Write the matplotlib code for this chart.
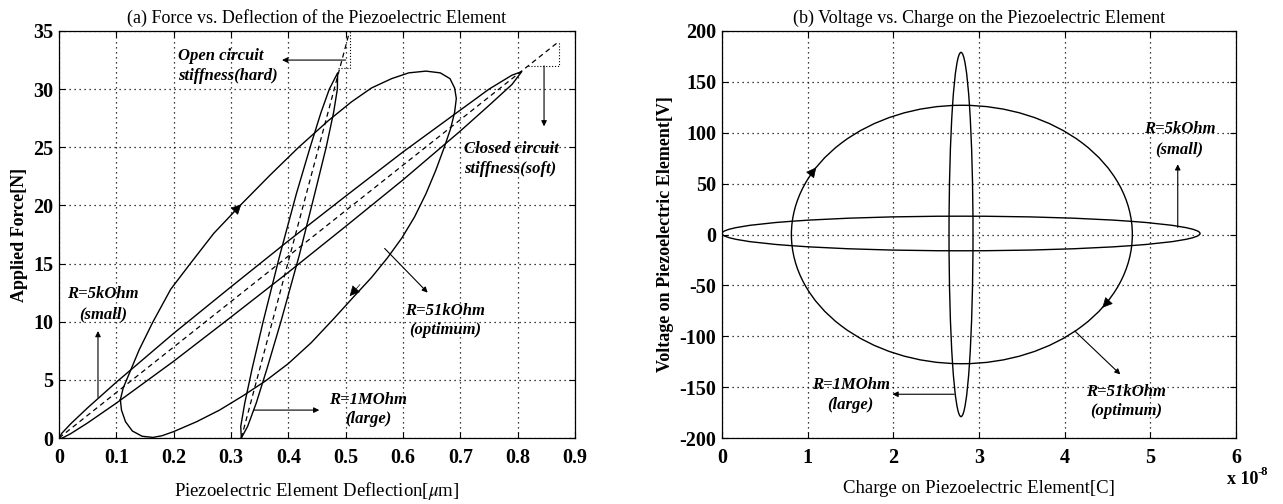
import matplotlib
matplotlib.use('Agg')
import matplotlib.pyplot as plt
from matplotlib.patches import Ellipse

plt.rcParams['font.family'] = ['Liberation Serif', 'DejaVu Serif']
plt.rcParams['mathtext.fontset'] = 'stix'
plt.rcParams['axes.unicode_minus'] = False

# ---- (a) force vs deflection, deflection in um, force in N ----
# R=5kOhm loop (thin, soft)
x_5k = [0, 0.005, 0.02, 0.05, 0.1, 0.15, 0.2, 0.3, 0.4, 0.5, 0.6, 0.7, 0.75, 0.79, 0.807,
        0.79, 0.75, 0.7, 0.6, 0.5, 0.4, 0.3, 0.2, 0.15, 0.1, 0.05, 0.02, 0.005, 0]
f_5k = [0, 0.41, 1.2, 2.6, 4.8, 6.9, 9.0, 13.0, 16.95, 20.8, 24.6, 28.2, 30.0, 31.2, 31.5,
        30.4, 28.6, 26.4, 22.2, 18.2, 14.25, 10.4, 6.6, 4.8, 3.0, 1.3, 0.36, -0.02, 0]

# R=1MOhm loop (thin, hard)
x_1m = [0.318, 0.317, 0.324, 0.337, 0.356, 0.385, 0.414, 0.438, 0.457, 0.4715, 0.486,
        0.4855, 0.479, 0.466, 0.446, 0.419, 0.387, 0.363, 0.344, 0.329, 0.318]
f_1m = [0, 1, 3, 6, 10, 15.7, 21, 25, 28, 30, 31.4,
        30, 28, 25, 21, 15.7, 10, 6, 3, 1, 0]

# R=51kOhm loop (optimum, fat)
x_51k = [0.107, 0.112, 0.123, 0.140, 0.164, 0.195, 0.229, 0.27, 0.318, 0.368, 0.418, 0.47,
         0.51, 0.545, 0.58, 0.61, 0.64, 0.665, 0.682, 0.690, 0.693, 0.690, 0.683, 0.672,
         0.657, 0.640, 0.620, 0.598, 0.573, 0.545, 0.515, 0.480, 0.44, 0.40, 0.36, 0.32,
         0.28, 0.24, 0.20, 0.18, 0.164, 0.145, 0.128, 0.116, 0.109, 0.107]
f_51k = [3.3, 4.3, 5.6, 7.6, 10.0, 12.8, 15.0, 17.6, 20.1, 22.6, 25.0, 27.3,
         28.9, 30.1, 30.9, 31.4, 31.55, 31.4, 30.9, 30.1, 29.2, 28.0, 26.6, 25.0,
         23.0, 21.0, 19.0, 17.2, 15.5, 13.8, 12.2, 10.3, 8.2, 6.4, 4.9, 3.6,
         2.4, 1.4, 0.55, 0.2, 0.05, 0.15, 0.6, 1.4, 2.4, 3.3]

# stiffness lines (dashed) and their triangles
closed_x = [0, 0.872]
closed_f = [0, 34.1]
open_x = [0.318, 0.507]
open_f = [0, 35.0]

# ---- (b) voltage vs charge, charge in 1e-8 C, voltage in V ----
loop_q_mid = [2.80, 2.79, 2.79]     # 51k, 5k, 1M
loop_v_mid = [0.0, 1.0, 0.0]
loop_q_span = [3.98, 5.58, 0.28]
loop_v_span = [254, 34, 358]

fig = plt.figure(figsize=(12.83, 5.04), dpi=100)
W, H = 1283.0, 504.0
ax1 = fig.add_axes([59 / W, 1 - 438 / H, 516 / W, 407 / H])
ax2 = fig.add_axes([722 / W, 1 - 438 / H, 514 / W, 407 / H])

tick_font = dict(fontsize=14.5, fontweight='bold')
note_font = dict(fontsize=12, fontstyle='italic', fontweight='bold', linespacing=1.3)


def style_axes(ax):
    ax.grid(True, color='k', linestyle=(0, (1, 3)), linewidth=0.9)
    ax.tick_params(direction='in', top=True, right=True, length=4, width=0.8)
    ax.tick_params(axis='x', pad=7)
    ax.tick_params(axis='y', pad=4)
    for s in ax.spines.values():
        s.set_linewidth(0.9)


def arrow(ax, tail, head, scale=8, lw=0.8):
    ax.annotate('', xy=head, xytext=tail,
                arrowprops=dict(arrowstyle='-|>', color='k', lw=lw,
                                mutation_scale=scale, shrinkA=0, shrinkB=0))


# ----- panel (a) -----
ax1.plot(x_5k, f_5k, color='k', lw=1.0)
ax1.plot(x_1m, f_1m, color='k', lw=1.0)
ax1.plot(x_51k, f_51k, color='k', lw=1.0)
ax1.plot(closed_x, closed_f, color='k', lw=0.9, dashes=(4, 3))
ax1.plot(open_x, open_f, color='k', lw=0.9, dashes=(4, 3))
# stiffness triangles
ax1.plot([0.818, 0.872, 0.872], [32.0, 32.0, 34.1], color='k', lw=0.8, linestyle=':')
ax1.plot([0.486, 0.507, 0.507], [31.8, 31.8, 35.0], color='k', lw=0.8, linestyle=':')

# direction arrows on the 51k loop
arrow(ax1, (0.300, 19.2), (0.318, 20.1), scale=16, lw=0.5)
arrow(ax1, (0.525, 13.2), (0.507, 12.2), scale=16, lw=0.5)

ax1.text(0.207, 32.0, 'Open circuit\nstiffness(hard)', ha='left', va='center', **note_font)
arrow(ax1, (0.500, 32.5), (0.389, 32.5))
ax1.text(0.707, 24.0, 'Closed circuit\nstiffness(soft)', ha='left', va='center', **note_font)
arrow(ax1, (0.846, 32.0), (0.846, 26.8))
ax1.text(0.077, 11.5, 'R=5kOhm\n(small)', ha='center', va='center', **note_font)
arrow(ax1, (0.068, 3.5), (0.068, 9.2))
ax1.text(0.539, 2.45, 'R=1MOhm\n(large)', ha='center', va='center', **note_font)
arrow(ax1, (0.339, 2.4), (0.454, 2.4))
ax1.text(0.673, 10.1, 'R=51kOhm\n(optimum)', ha='center', va='center', **note_font)
arrow(ax1, (0.568, 16.3), (0.643, 12.5))

ax1.set_xlim(0, 0.9)
ax1.set_ylim(0, 35)
xt = [0, 0.1, 0.2, 0.3, 0.4, 0.5, 0.6, 0.7, 0.8, 0.9]
ax1.set_xticks(xt)
ax1.set_xticklabels(['0'] + ['%.1f' % v for v in xt[1:]], **tick_font)
yt = [0, 5, 10, 15, 20, 25, 30, 35]
ax1.set_yticks(yt)
ax1.set_yticklabels([str(v) for v in yt], **tick_font)
style_axes(ax1)
ax1.set_title('(a) Force vs. Deflection of the Piezoelectric Element', fontsize=13, pad=6)
ax1.set_xlabel(r'Piezoelectric Element Deflection[$\mu$m]', fontsize=13.5, labelpad=9)
ax1.set_ylabel('Applied Force[N]', fontsize=13, fontweight='bold', labelpad=4)

# ----- panel (b) -----
for qc, vc, qs, vs in zip(loop_q_mid, loop_v_mid, loop_q_span, loop_v_span):
    ax2.add_patch(Ellipse((qc, vc), qs, vs, fill=False, ec='k', lw=1.0))

# direction arrows on the 51k loop (clockwise)
arrow(ax2, (1.05, 60.7), (1.10, 66.0), scale=16, lw=0.5)
arrow(ax2, (4.49, -67.4), (4.44, -72.0), scale=16, lw=0.5)

ax2.text(5.34, 93.7, 'R=5kOhm\n(small)', ha='center', va='center', **note_font)
arrow(ax2, (5.32, 7.0), (5.32, 69.0))
ax2.text(1.50, -157.5, 'R=1MOhm\n(large)', ha='center', va='center', **note_font)
arrow(ax2, (2.71, -157.0), (1.99, -157.0))
ax2.text(4.72, -164.0, 'R=51kOhm\n(optimum)', ha='center', va='center', **note_font)
arrow(ax2, (4.12, -95.0), (4.65, -137.5))

ax2.set_xlim(0, 6)
ax2.set_ylim(-200, 200)
qt = [0, 1, 2, 3, 4, 5, 6]
ax2.set_xticks(qt)
ax2.set_xticklabels([str(v) for v in qt], **tick_font)
vt = [-200, -150, -100, -50, 0, 50, 100, 150, 200]
ax2.set_yticks(vt)
ax2.set_yticklabels([str(v) for v in vt], **tick_font)
style_axes(ax2)
ax2.set_title('(b) Voltage vs. Charge on the Piezoelectric Element', fontsize=13, pad=6)
ax2.set_xlabel('Charge on Piezoelectric Element[C]', fontsize=13.5, labelpad=9)
ax2.set_ylabel('Voltage on Piezoelectric Element[V]', fontsize=13, fontweight='bold', labelpad=4)
fig.text(1243 / W, 1 - 480 / H, 'x 10', ha='center', va='center', fontsize=13, fontweight='bold')
fig.text(1263 / W, 1 - 472 / H, '-8', ha='center', va='center', fontsize=9, fontweight='bold')

fig.savefig('out.png', dpi=100)
